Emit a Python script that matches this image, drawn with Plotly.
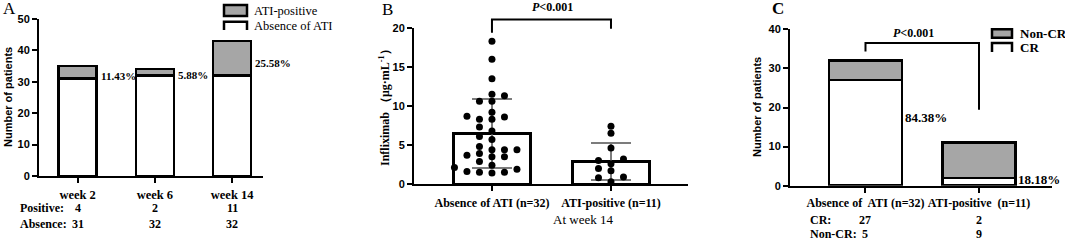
import plotly.graph_objects as go

# ---------------- data ----------------
# Panel A
weeks = ["week 2", "week 6", "week 14"]
a_positive = [4, 2, 11]
a_absence = [31, 32, 32]

# Panel B (at week 14)
b_groups = ["Absence of ATI (n=32)", "ATI-positive (n=11)"]
b_absence_vals = [18.3, 16.0, 13.5, 11.5, 11.3, 10.6, 10.6, 9.2, 8.7, 8.6, 8.3, 8.3,
                  7.3, 6.8, 6.1, 5.7, 4.8, 4.4, 4.4, 4.4, 3.9, 3.7, 3.5, 3.5,
                  2.9, 2.4, 2.1, 1.9, 1.6, 1.5, 1.5, 1.4]
b_positive_vals = [7.4, 6.5, 4.6, 3.2, 3.0, 2.6, 2.0, 1.7, 0.9, 0.8, 0.3]
b_means = [6.45, 2.9]
b_sds = [4.4, 2.37]

# Panel C
c_groups = ["Absence of\u00a0 ATI (n=32)", "ATI-positive\u00a0 (n=11)"]
c_cr = [27, 2]
c_noncr = [5, 9]

# ---------------- layout constants ----------------
W, H = 1065, 243
GRAY = "#a6a6a6"
SERIF = "Liberation Serif"
SANS = "Liberation Sans"


def px(x):
    return x / W


def py(y):
    return 1 - y / H


A_X, A_Y, A_R = (39, 263), (19, 176), (-0.5, 2.4)
B_X, B_Y, B_R = (414, 688), (28, 184), (-0.655, 1.647)
C_X, C_Y, C_R = (790, 1052), (29.3, 185.7), (-0.665, 1.643)
B_YR = (0, 20)


def data_x_to_px(v, dom, rng):
    return dom[0] + (v - rng[0]) / (rng[1] - rng[0]) * (dom[1] - dom[0])


def data_y_to_px(v, dom, rng):
    return dom[1] - (v - rng[0]) / (rng[1] - rng[0]) * (dom[1] - dom[0])


# beeswarm layout for panel B
def swarm(vals, center, col_px=12.5, dot_px=6.8):
    xppu = (B_X[1] - B_X[0]) / (B_R[1] - B_R[0])
    yppu = (B_Y[1] - B_Y[0]) / (B_YR[1] - B_YR[0])
    order = sorted(range(len(vals)), key=lambda i: vals[i])
    placed = {}
    xs = [0.0] * len(vals)
    cands = [0, -1, 1, -2, 2, -3, 3, -4, 4]
    for i in order:
        v = vals[i]
        for k in cands:
            col = placed.setdefault(k, [])
            if all(abs(v - u) * yppu >= dot_px for u in col):
                col.append(v)
                xs[i] = center + k * col_px / xppu
                break
    return xs


fig = go.Figure()

bar_line = dict(color="black", width=2.5)

# Panel A
fig.add_trace(go.Bar(x=list(range(len(weeks))), y=a_absence, width=0.49,
                     marker=dict(color="white", line=bar_line), xaxis="x", yaxis="y"))
fig.add_trace(go.Bar(x=list(range(len(weeks))), y=a_positive, width=0.49,
                     marker=dict(color=GRAY, line=bar_line), xaxis="x", yaxis="y"))

# Panel B
fig.add_trace(go.Bar(x=[0, 1], y=b_means, width=0.65,
                     marker=dict(color="white", line=bar_line),
                     error_y=dict(type="data", array=b_sds, visible=True,
                                  color="#7c7c7c", thickness=2, width=20),
                     xaxis="x2", yaxis="y2"))
for gi, vals in enumerate([b_absence_vals, b_positive_vals]):
    fig.add_trace(go.Scatter(x=swarm(vals, gi), y=vals, mode="markers",
                             marker=dict(color="black", size=7),
                             xaxis="x2", yaxis="y2"))

# Panel C
fig.add_trace(go.Bar(x=[0, 1], y=c_cr, width=0.64,
                     marker=dict(color="white", line=bar_line), xaxis="x3", yaxis="y3"))
fig.add_trace(go.Bar(x=[0, 1], y=c_noncr, width=0.64,
                     marker=dict(color=GRAY, line=bar_line), xaxis="x3", yaxis="y3"))

tickfont_y = dict(family=SANS, size=11, color="black", weight="bold")
common_ax = dict(showline=True, linewidth=2, linecolor="black", ticks="outside",
                 ticklen=5, tickwidth=2, tickcolor="black", showgrid=False,
                 zeroline=False, fixedrange=True, automargin=False)

fig.update_layout(
    template="none",
    width=W, height=H, margin=dict(l=0, r=0, t=0, b=0, pad=0, autoexpand=False),
    paper_bgcolor="white", plot_bgcolor="white",
    barmode="stack", showlegend=False,
    xaxis=dict(domain=[px(A_X[0]), px(A_X[1])], range=list(A_R), anchor="y",
               tickvals=list(range(len(weeks))), ticktext=weeks, ticklabelstandoff=1,
               tickfont=dict(family=SERIF, size=12.5, color="black", weight="bold"),
               **common_ax),
    yaxis=dict(domain=[py(A_Y[1]), py(A_Y[0])], range=[0, 50], anchor="x",
               tickvals=[0, 10, 20, 30, 40, 50], tickfont=tickfont_y, **common_ax),
    xaxis2=dict(domain=[px(B_X[0]), px(B_X[1])], range=list(B_R), anchor="y2",
                tickvals=[0, 1], ticktext=b_groups, ticklabelstandoff=2,
                tickfont=dict(family=SERIF, size=12, color="black", weight="bold"),
                **common_ax),
    yaxis2=dict(domain=[py(B_Y[1]), py(B_Y[0])], range=list(B_YR), anchor="x2",
                tickvals=[0, 5, 10, 15, 20], tickfont=tickfont_y, **common_ax),
    xaxis3=dict(domain=[px(C_X[0]), px(C_X[1])], range=list(C_R), anchor="y3",
                tickvals=[0, 1], ticktext=c_groups,
                tickfont=dict(family=SERIF, size=12, color="black", weight="bold"),
                **common_ax),
    yaxis3=dict(domain=[py(C_Y[1]), py(C_Y[0])], range=[0, 40], anchor="x3",
                tickvals=[0, 10, 20, 30, 40], tickfont=tickfont_y, **common_ax),
)

ann = []


def text(x, y, s, size, family=SERIF, bold=True, xanchor="center", angle=0,
         xref="paper", yref="paper", style="normal", xshift=0, yanchor="middle"):
    ann.append(dict(x=x, y=y, xref=xref, yref=yref, text=s, showarrow=False,
                    xanchor=xanchor, yanchor=yanchor, textangle=angle, xshift=xshift,
                    font=dict(family=family, size=size, color="black",
                              weight="bold" if bold else "normal", style=style)))


# panel letters
text(px(1), py(9), "A", 17, bold=False, xanchor="left")
text(px(380), py(9.5), "B", 17, bold=False, xanchor="left")
text(px(770), py(9), "C", 17, bold=True, xanchor="left")

# y-axis titles
text(px(8), py(97), "Number of patients", 11, family=SANS, angle=-90)
text(px(385), py(105), "Infliximab \uff08\u03bcg\u00b7mL<sup>-1</sup>\uff09", 12, angle=-90)
text(px(757), py(107), "Number of patients", 11, family=SANS, angle=-90)

# Panel A percentages and count rows
a_pct_y = [31.8, 32.2, 36.0]
for i in range(len(weeks)):
    pct = a_positive[i] / (a_positive[i] + a_absence[i]) * 100
    text(i + 0.245, a_pct_y[i], f"{pct:.2f}%", 11, xanchor="left", xref="x", yref="y", xshift=2)
    text(i, py(208), str(a_positive[i]), 12, xref="x")
    text(i, py(224), str(a_absence[i]), 12, xref="x")
text(px(18), py(208), "Positive:", 12, xanchor="left")
text(px(18), py(224), "Absence:", 12, xanchor="left")

# Panel B
text(px(583), py(219), "At week 14", 13, bold=False)
text(px(552), py(7), "<i>P</i>&lt;0.001", 12)

# Panel C
c_pct_y = [17.4, 1.5]
for i in range(2):
    pct = c_cr[i] / (c_cr[i] + c_noncr[i]) * 100
    text(i + 0.32, c_pct_y[i], f"{pct:.2f}%", 13, xanchor="left", xref="x3", yref="y3", xshift=1)
    text(i, py(220), str(c_cr[i]), 12, xref="x3")
    text(i, 0, str(c_noncr[i]), 12, xref="x3", yanchor="bottom")
text(px(808), py(220), "CR:", 12, xanchor="left")
text(px(808), 0, "Non-CR:", 12, xanchor="left", yanchor="bottom")
text(px(913), py(33), "<i>P</i>&lt;0.001", 12)

# legends
text(px(252), py(11), "ATI-positive", 12.5, bold=False, xanchor="left")
text(px(252), py(25.5), "Absence of ATI", 12.5, bold=False, xanchor="left")
text(px(1018), py(33.5), "Non-CR", 13, xanchor="left")
text(px(1018), py(47.5), "CR", 13, xanchor="left")

fig.update_layout(annotations=ann)

shapes = []
lw = dict(color="black", width=2.5)
shapes.append(dict(type="rect", xref="paper", yref="paper", x0=px(224), x1=px(247),
                   y0=py(16), y1=py(5), fillcolor=GRAY, line=lw))
shapes.append(dict(type="path", xref="paper", yref="paper",
                   path=f"M{px(224)},{py(30)} L{px(224)},{py(21.7)} L{px(247)},{py(21.7)} L{px(247)},{py(30)}",
                   line=lw))
shapes.append(dict(type="rect", xref="paper", yref="paper", x0=px(992), x1=px(1012),
                   y0=py(37.7), y1=py(29.3), fillcolor=GRAY, line=lw))
shapes.append(dict(type="path", xref="paper", yref="paper",
                   path=f"M{px(992)},{py(52)} L{px(992)},{py(43)} L{px(1012)},{py(43)} L{px(1012)},{py(52)}",
                   line=lw))

# significance brackets
bl = dict(color="black", width=2)
b_br = (19.4, 21.1, 19.9)  # left leg bottom, top, right leg bottom (data units)
bx0 = px(data_x_to_px(0, B_X, B_R))
bx1 = px(data_x_to_px(1, B_X, B_R))
by = [py(data_y_to_px(v, B_Y, B_YR)) for v in b_br]
shapes.append(dict(type="path", xref="paper", yref="paper",
                   path=f"M{bx0},{by[0]} L{bx0},{by[1]} L{bx1},{by[1]} L{bx1},{by[2]}", line=bl))
c_br = (34.3, 36.5, 19.4)
shapes.append(dict(type="path", xref="x3", yref="y3",
                   path=f"M0,{c_br[0]} L0,{c_br[1]} L1,{c_br[1]} L1,{c_br[2]}", line=bl))

fig.update_layout(shapes=shapes)

fig.write_html("out.html", config={"displayModeBar": False},
               post_script="document.body.style.margin='0px';document.body.style.overflow='hidden';")
